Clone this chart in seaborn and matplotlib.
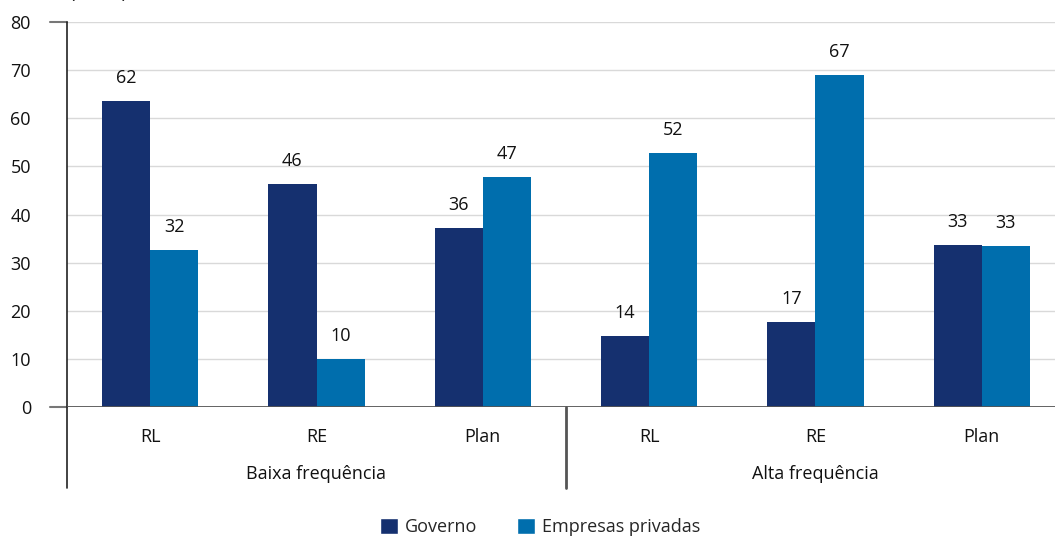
import numpy as np
import pandas as pd
import matplotlib.pyplot as plt
import seaborn as sns
from matplotlib.patches import Patch

# ── dados ────────────────────────────────────────────────
categorias = ['RL', 'RE', 'Plan', 'RL', 'RE', 'Plan']
grupos = ['Baixa frequência', 'Alta frequência']
series = ['Governo', 'Empresas privadas']
governo = [63.6, 46.4, 37.2, 14.8, 17.7, 33.7]        # altura das barras
empresas = [32.6, 10.0, 47.8, 52.8, 69.0, 33.5]
governo_rot = ['62', '46', '36', '14', '17', '33']     # rótulos impressos
empresas_rot = ['32', '10', '47', '52', '67', '33']

cores = ['#15306f', '#006ead']

sns.set_style('white')
plt.rcParams['font.family'] = ['Open Sans', 'DejaVu Sans']

pos = [f'{i}' for i in range(len(categorias))]
df = pd.DataFrame({
    'pos': pos * 2,
    'valor': governo + empresas,
    'serie': [series[0]] * 6 + [series[1]] * 6,
})

W, H = 1055, 537
fig = plt.figure(figsize=(W / 100, H / 100), dpi=100)
ax = fig.add_axes([67 / W, 130 / H, 998 / W, 385 / H])

sns.barplot(data=df, x='pos', y='valor', hue='serie', order=pos,
            hue_order=series, palette=cores, width=0.58, saturation=1,
            linewidth=0, legend=False, ax=ax)

for cont, rot in zip(ax.containers, [governo_rot, empresas_rot]):
    ax.bar_label(cont, labels=rot, padding=10, fontsize=13, color='#111111')

ax.set_xlim(-0.5, 5.5)
ax.set_ylim(0, 80)
ax.set_yticks(range(0, 81, 10))
ax.set_yticklabels([str(v) for v in range(0, 81, 10)], fontsize=13, color='#111111')
ax.tick_params(axis='y', length=0, pad=26)
ax.set_xticks([])
ax.set_xlabel('')
ax.set_ylabel('')
ax.grid(axis='y', color='#d9d9d9', linewidth=1)
ax.set_axisbelow(True)
for s in ['top', 'right', 'bottom', 'left']:
    ax.spines[s].set_visible(False)

# linha do zero e traços à esquerda
ax.axhline(0, color='#555555', linewidth=2, zorder=5)
ax.plot([-17 / 998, 0], [0, 0], transform=ax.transAxes, color='#777777',
        linewidth=1.5, clip_on=False)
ax.plot([-17 / 998, 0], [1, 1], transform=ax.transAxes, color='#777777',
        linewidth=1.5, clip_on=False)

# eixo esquerdo e divisória entre grupos
baixo = -81 / 385
ax.plot([0, 0], [baixo, 1], transform=ax.transAxes, color='#222222',
        linewidth=1.2, clip_on=False)
ax.plot([0.5, 0.5], [baixo, 0], transform=ax.transAxes, color='#555555',
        linewidth=2, clip_on=False)

# rótulos das categorias e dos grupos
for i, c in enumerate(categorias):
    ax.text(i, -30 / 385 * 80, c, ha='center', va='center', fontsize=13,
            color='#111111')
for j, g in enumerate(grupos):
    ax.text(1 + 3 * j, -67 / 385 * 80, g, ha='center', va='center',
            fontsize=13, color='#111111')

fig.text(70 / W, (H + 2) / H, '(Em %)', fontsize=13, va='baseline',
         color='#111111')

handles = [Patch(facecolor=c, label=s) for c, s in zip(cores, series)]
fig.legend(handles=handles, loc='center', bbox_to_anchor=(540 / W, 10 / H),
           ncol=2, frameon=False, fontsize=13, handlelength=1.0,
           handleheight=1.0, handletextpad=0.4, columnspacing=2.2)

fig.savefig('out.png', dpi=100)
